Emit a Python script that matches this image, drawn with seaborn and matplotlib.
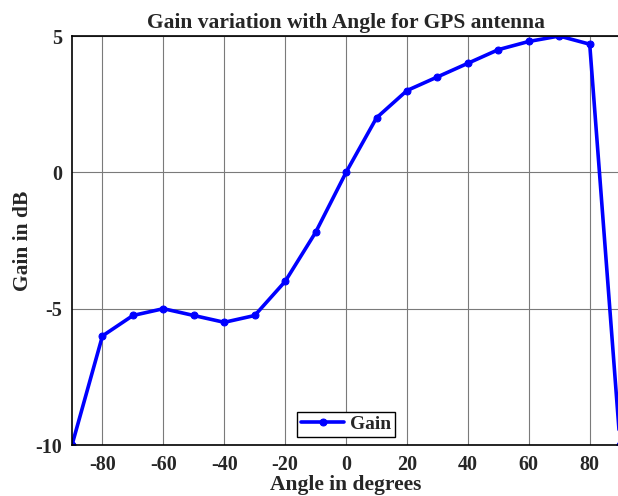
import numpy as np
import pandas as pd
import matplotlib
matplotlib.use("Agg")
import matplotlib.pyplot as plt
import seaborn as sns

# data
angle = [-90, -80, -70, -60, -50, -40, -30, -20, -10, 0, 10, 20, 30, 40, 50, 60, 70, 80, 90]
gain = [-10, -6, -5.25, -5, -5.25, -5.5, -5.25, -4, -2.2, 0, 2, 3, 3.5, 4, 4.5, 4.8, 5, 4.7, -10]
x_ticks = [-80, -60, -40, -20, 0, 20, 40, 60, 80]
y_ticks = [-10, -5, 0, 5]

df = pd.DataFrame({"Angle": angle, "Gain": gain})

sns.set_style("white")
plt.rcParams["font.family"] = ["Liberation Serif", "DejaVu Serif"]
plt.rcParams["font.weight"] = "bold"
plt.rcParams["axes.unicode_minus"] = False

fig = plt.figure(figsize=(6.18, 4.96), dpi=100)
ax = fig.add_axes([0.1165, 0.1028, 0.887, 0.8246])

sns.lineplot(data=df, x="Angle", y="Gain", ax=ax, color="blue", linewidth=2.6,
             marker="o", markersize=5, markeredgecolor="blue", label="Gain")

ax.set_xlim(-90, 90)
ax.set_ylim(-10, 5)
ax.set_xticks(x_ticks)
ax.set_yticks(y_ticks)
ax.grid(True, color="#7a7a7a", linewidth=0.8)
ax.tick_params(direction="in", length=4, labelsize=14.5, width=1, color="black", pad=7)
for lab in ax.get_xticklabels() + ax.get_yticklabels():
    lab.set_fontweight("bold")
for s in ax.spines.values():
    s.set_color("black")
    s.set_linewidth(1.2)

ax.set_xlabel("Angle in degrees", fontsize=15.5, fontweight="bold", labelpad=0)
ax.set_ylabel("Gain in dB", fontsize=15.5, fontweight="bold", labelpad=2)
ax.set_title("Gain variation with Angle for GPS antenna", fontsize=15.5, fontweight="bold", pad=6)

leg = ax.legend(loc="lower center", bbox_to_anchor=(0.5, 0.01), fancybox=False,
                framealpha=1, edgecolor="black", prop={"weight": "bold", "size": 14},
                handlelength=2.2, handletextpad=0.3, borderpad=0.2, borderaxespad=0.2)
leg.get_frame().set_linewidth(1.0)

fig.savefig("out.png", dpi=100)
